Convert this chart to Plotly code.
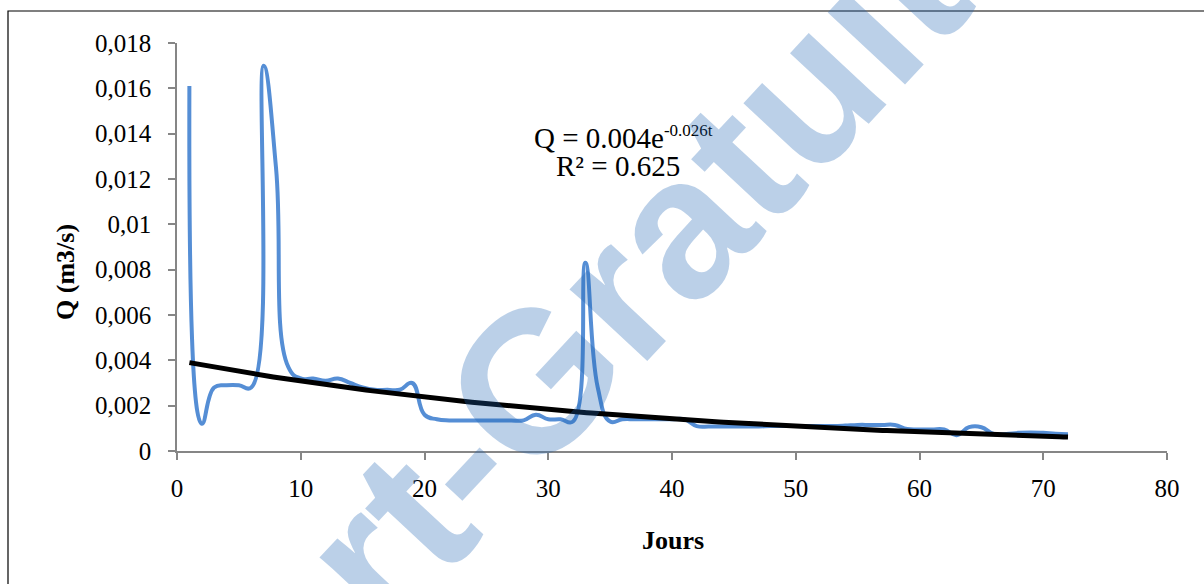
import numpy as np
import plotly.graph_objects as go

# Daily discharge record (days 1..72)
jours = list(range(1, 73))
debit = [
    0.0161, 0.0012, 0.0028, 0.0029, 0.0029, 0.0028, 0.0170, 0.0125, 0.0037, 0.0032,
    0.0032, 0.0031, 0.0032, 0.0030, 0.0028, 0.0027, 0.0027, 0.0027, 0.0030, 0.0016,
    0.0014, 0.00135, 0.00135, 0.00135, 0.00135, 0.00135, 0.00135, 0.00135, 0.0016, 0.0014,
    0.0014, 0.0013, 0.0083, 0.0028, 0.0013, 0.0014, 0.0014, 0.0014, 0.0014, 0.0014,
    0.0014, 0.0011, 0.00108, 0.00108, 0.00108, 0.00108, 0.00108, 0.0011, 0.0011, 0.0011,
    0.0011, 0.0011, 0.0011, 0.00112, 0.00115, 0.00115, 0.00115, 0.00115, 0.00097, 0.00095,
    0.00095, 0.00095, 0.0007, 0.00105, 0.00105, 0.00075, 0.00075, 0.0008, 0.00082, 0.0008,
    0.00076, 0.00074,
]

# Exponential trend Q = a * exp(b t), as reported on the chart
trend_a = 0.004
trend_b = -0.026
r2 = 0.625

y_ticks = [0, 0.002, 0.004, 0.006, 0.008, 0.01, 0.012, 0.014, 0.016, 0.018]
y_ticklabels = ["0", "0,002", "0,004", "0,006", "0,008", "0,01", "0,012", "0,014", "0,016", "0,018"]
x_ticks = [0, 10, 20, 30, 40, 50, 60, 70, 80]

t_fit = np.linspace(jours[0], jours[-1], 200)
q_fit = trend_a * np.exp(trend_b * t_fit)

SERIF = "Liberation Serif, Times New Roman, serif"
AXIS_GREY = "#868686"

fig = go.Figure()
fig.add_trace(go.Scatter(
    x=jours, y=debit, mode="lines",
    line=dict(color="#558ED5", width=4, shape="spline", smoothing=1.3),
    hoverinfo="x+y", showlegend=False,
))
fig.add_trace(go.Scatter(
    x=t_fit, y=q_fit, mode="lines",
    line=dict(color="black", width=5),
    hoverinfo="skip", showlegend=False,
))

# plot area: x 177..1167 px, y 43..451 px
L, R, T, B = 177, 1167, 43, 451
W, H = 1204, 584


def px(x):
    return (x - L) / (R - L)


def py(y):
    return (B - y) / (B - T)


def label(text, x, y, size, **kw):
    return dict(text=text, xref="paper", yref="paper", x=px(x), y=py(y),
                xanchor="center", yanchor="middle", showarrow=False,
                font=dict(family=SERIF, size=size), **kw)


fig.update_layout(
    width=W, height=H,
    margin=dict(l=L, r=W - R, t=T, b=H - B),
    paper_bgcolor="white", plot_bgcolor="white",
    font=dict(family=SERIF, size=25, color="black"),
    xaxis=dict(
        range=[0, 80], tickvals=x_ticks, showgrid=False, zeroline=False,
        showline=True, linecolor=AXIS_GREY, linewidth=1.5,
        ticks="outside", ticklen=7, tickcolor=AXIS_GREY, tickwidth=1.5,
        ticklabelstandoff=7, tickfont=dict(family=SERIF, size=25),
    ),
    yaxis=dict(
        range=[0, 0.018], tickvals=y_ticks, ticktext=y_ticklabels,
        showgrid=False, zeroline=False,
        showline=True, linecolor=AXIS_GREY, linewidth=1.5,
        ticks="outside", ticklen=7, tickcolor=AXIS_GREY, tickwidth=1.5,
        ticklabelstandoff=12, tickfont=dict(family=SERIF, size=25),
    ),
    shapes=[dict(
        type="rect", xref="paper", yref="paper",
        x0=px(8), x1=px(1220), y0=py(600), y1=py(11),
        line=dict(color="black", width=1.2), fillcolor="rgba(0,0,0,0)", layer="below",
    )],
    annotations=[
        label("<b>Jours</b>", 673, 540, 26),
        label("<b>Q (m3/s)</b>", 65, 272, 26, textangle=-90),
        label("Q = %.3fe<sup><span style='font-size:17px'>%.3ft</span></sup>" % (trend_a, trend_b),
              623, 137, 29),
        label("R² = %.3f" % r2, 618, 166, 29),
        dict(text="<b>Rapport-Gratuit.com</b>", xref="paper", yref="paper",
             x=px(580), y=py(332), xanchor="center", yanchor="middle",
             textangle=-47, showarrow=False,
             font=dict(family="Liberation Sans, Arial, sans-serif", size=200,
                       color="rgba(30,100,180,0.3)")),
    ],
)

fig.write_html("out.html")
